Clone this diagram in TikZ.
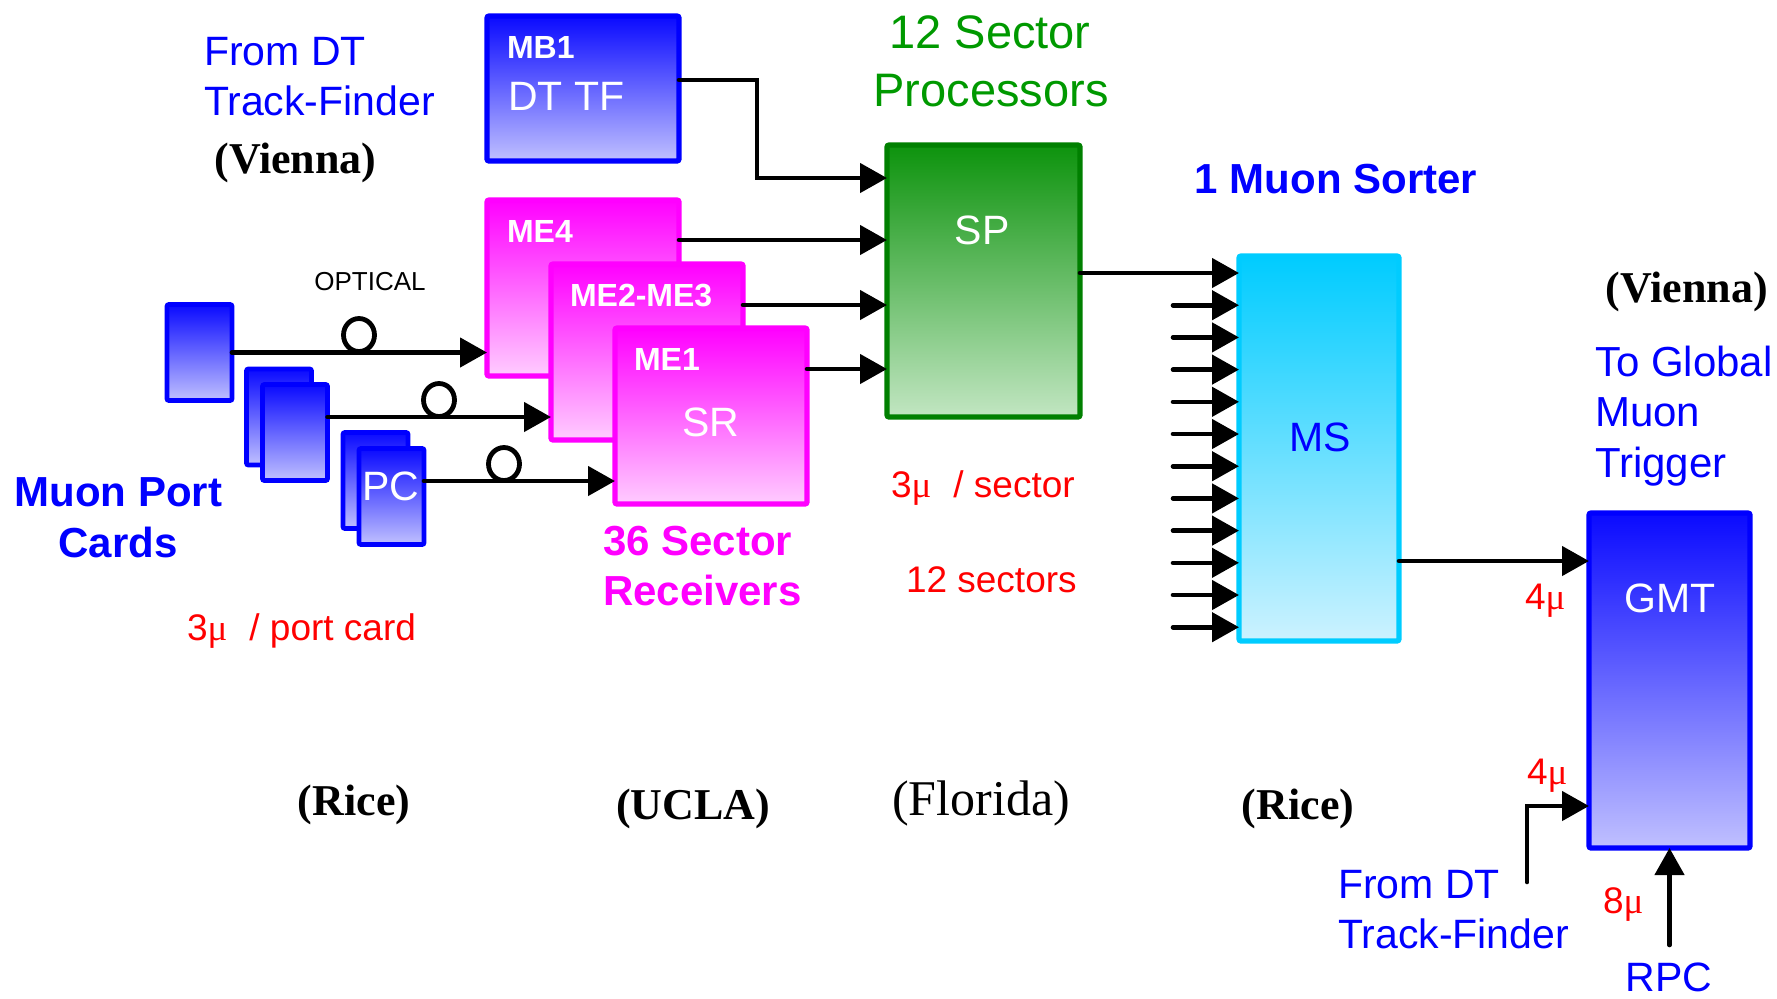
\documentclass[tikz,border=0pt]{standalone}
\usepackage{fontspec}
\setmainfont{Liberation Sans}
\newfontfamily\serifed{Liberation Serif}
\usetikzlibrary{arrows.meta,shapes.geometric}
\definecolor{pblue}{HTML}{0000FF}
\definecolor{pred}{HTML}{FF0000}
\definecolor{pmag}{HTML}{FF00FF}
\definecolor{pgreen}{HTML}{009900}
\definecolor{spborder}{HTML}{008000}
\definecolor{mscyan}{HTML}{00CCFF}
\definecolor{bluetop}{HTML}{0A0AFF}
\definecolor{bluebot}{HTML}{C0C0FF}
\definecolor{magtop}{HTML}{FF00FF}
\definecolor{magbot}{HTML}{FFCCFF}
\definecolor{sptop}{HTML}{0D930D}
\definecolor{spbot}{HTML}{C2E6C2}
\definecolor{mstop}{HTML}{00CCFF}
\definecolor{msbot}{HTML}{CCF2FF}
\newcommand{\myfs}[1]{\fontsize{#1pt}{#1pt}\selectfont}
\begin{document}
\begin{tikzpicture}[x=0.5pt,y=-0.5pt,
  box/.style={rounded corners=1pt, line width=2.6pt, inner sep=0pt, outer sep=0pt},
  wh/.style 2 args={minimum width=#1*0.5pt, minimum height=#2*0.5pt},
  bluebox/.style={box, draw=pblue, top color=bluetop, bottom color=bluebot},
  magbox/.style={box, draw=pmag, top color=magtop, bottom color=magbot},
  spbox/.style={box, draw=spborder, top color=sptop, bottom color=spbot},
  msbox/.style={box, draw=mscyan, top color=mstop, bottom color=msbot},
  pcbox/.style={bluebox, line width=2.4pt, wh={65}{96}},
  arr/.style={line width=2.3pt, line cap=round, -{Triangle[length=13.5pt,width=14.5pt]}},
  optc/.style={ellipse, draw=black, fill=white, line width=2.4pt, minimum width=15.5pt, minimum height=16.5pt, inner sep=0pt},
  lbl/.style={inner sep=0pt, outer sep=0pt, anchor=base west},
  lblc/.style={inner sep=0pt, outer sep=0pt, anchor=base},
  sanslbl/.style={font=\myfs{20.5}},
  boldlbl/.style={font=\bfseries\myfs{21}},
  redlbl/.style={text=pred, font=\myfs{18.5}},
  inst/.style={font=\serifed\bfseries\myfs{22}},
]
\useasboundingbox (0,0) rectangle (1777,998);

% ---------- boxes ----------
\node[bluebox, wh={192}{145}] (mb1) at (583,88.5) {};
\node[magbox, wh={192}{176}] (me4) at (583,288) {};
\node[magbox, wh={192}{176}] (me23) at (647,352) {};
\node[magbox, wh={192}{176}] (me1) at (711,416) {};
\node[spbox, wh={193}{272}] (sp) at (983.5,281) {};
\node[msbox, wh={160}{385}] (ms) at (1319,448.5) {};
\node[bluebox, wh={161}{335}] (gmt) at (1669.5,680.5) {};

\node[pcbox] (pc1) at (199.5,352.5) {};
\node[pcbox] (pc2b) at (279,417) {};
\node[pcbox] (pc2) at (295,432.5) {};
\node[pcbox] (pc3b) at (375.5,480.5) {};
\node[pcbox] (pc3) at (391.5,496.5) {};

% ---------- texts inside boxes ----------
\node[lbl, text=white, font=\bfseries\myfs{16}] (mb1t) at (507,58) {MB1};
\node[lbl, text=white, sanslbl] (dttf) at (508,110) {DT TF};
\node[lbl, text=white, font=\bfseries\myfs{16}] (me4t) at (507,242) {ME4};
\node[lbl, text=white, font=\bfseries\myfs{16}] (me23t) at (570,306) {ME2-ME3};
\node[lbl, text=white, font=\bfseries\myfs{16}] (me1t) at (634,370) {ME1};
\node[lblc, text=white, sanslbl] (srt) at (711,436) {SR};
\node[lblc, text=white, sanslbl] (spt) at (982,244) {SP};
\node[lblc, text=pblue, sanslbl] (mst) at (1320,451) {MS};
\node[lblc, text=white, sanslbl] (gmtt) at (1670,612) {GMT};
\node[lblc, text=white, sanslbl] (pct) at (391,500) {PC};

% ---------- connectors ----------
\coordinate (bend) at (757,178);
\draw[arr] ([yshift=4.25pt]mb1.east) -| (bend) -- (bend -| sp.west);
\draw[arr] ([yshift=24pt]me4.east) -- ([yshift=24pt]me4.east -| sp.west);
\draw[arr] ([yshift=23.5pt]me23.east) -- ([yshift=23.5pt]me23.east -| sp.west);
\draw[arr] ([yshift=23.5pt]me1.east) -- ([yshift=23.5pt]me1.east -| sp.west);

\draw[arr] (pc1.east) -- (pc1.east -| me4.west);
\draw[arr] ([yshift=7.75pt]pc2.east) -- ([yshift=7.75pt]pc2.east -| me23.west);
\draw[arr] ([yshift=7.75pt]pc3.east) -- ([yshift=7.75pt]pc3.east -| me1.west);

\node[optc] (o1) at (359,335) {};
\node[optc] (o2) at (439,400) {};
\node[optc] (o3) at (504,464) {};

\draw[arr] ([yshift=4pt]sp.east) -- ([yshift=4pt]sp.east -| ms.west);
\foreach \k in {1,...,11} {
  \coordinate (s\k) at (1173,{273+32.2*\k});
  \draw[arr] (s\k) -- (s\k -| ms.west);
}
\draw[arr] ([yshift=-56.25pt]ms.east) -- ([yshift=-56.25pt]ms.east -| gmt.west);
\coordinate (dtin) at (1527,882);
\draw[arr] (dtin) |- ([yshift=-62.75pt]gmt.west);
\coordinate (rpcin) at (1669.5,945);
\draw[arr] (rpcin) -- (gmt.south);

% ---------- labels ----------
\node[lbl, text=pblue, sanslbl] (fdt1) at (204,65) {From DT};
\node[lbl, text=pblue, sanslbl] (fdt2) at (204,115) {Track-Finder};
\node[lblc, inst] (vie1) at (295.5,173) {(Vienna)};

\node[lblc, text=pgreen, font=\myfs{23.5}] (sp1) at (990,48) {12 Sector};
\node[lblc, text=pgreen, font=\myfs{23.5}] (sp2) at (991,106) {Processors};

\node[lblc, text=pblue, boldlbl] (msl) at (1336,193) {1 Muon Sorter};

\node[lblc, font=\myfs{13}] (opt) at (370,290) {OPTICAL};

\node[lblc, text=pblue, boldlbl] (mpc1) at (118.5,506) {Muon Port};
\node[lblc, text=pblue, boldlbl] (mpc2) at (118,557) {Cards};

\node[lbl, text=pmag, boldlbl] (sr1) at (603,555) {36 Sector};
\node[lbl, text=pmag, boldlbl] (sr2) at (603,605) {Receivers};

\node[lbl, redlbl] (ppc) at (187,640) {3{\serifed μ}\hspace{11pt}/ port card};
\node[lbl, redlbl] (psec) at (891,497) {3{\serifed μ}\hspace{11pt}/ sector};
\node[lbl, redlbl] (nsec) at (906,592) {12 sectors};

\node[lbl, redlbl] (mu4a) at (1525,609) {4{\serifed μ}};
\node[lbl, redlbl] (mu4b) at (1527,784) {4{\serifed μ}};
\node[lbl, redlbl] (mu8) at (1603,913) {8{\serifed μ}};

\node[lblc, inst] (vie2) at (1687,302) {(Vienna)};
\node[lbl, text=pblue, font=\myfs{21}] (tg1) at (1595,376) {To Global};
\node[lbl, text=pblue, font=\myfs{21}] (tg2) at (1595,426) {Muon};
\node[lbl, text=pblue, font=\myfs{21}] (tg3) at (1595,477) {Trigger};

\node[lbl, text=pblue, sanslbl] (fdt3) at (1338,898) {From DT};
\node[lbl, text=pblue, sanslbl] (fdt4) at (1338,948) {Track-Finder};
\node[lblc, text=pblue, sanslbl] (rpc) at (1669,991) {RPC};

\node[lblc, inst] (rice1) at (354,815) {(Rice)};
\node[lblc, inst] (ucla) at (693,819) {(UCLA)};
\node[lblc, font=\serifed\myfs{25}] (flor) at (981,815) {(Florida)};
\node[lblc, inst] (rice2) at (1298,819) {(Rice)};
\end{tikzpicture}
\end{document}
